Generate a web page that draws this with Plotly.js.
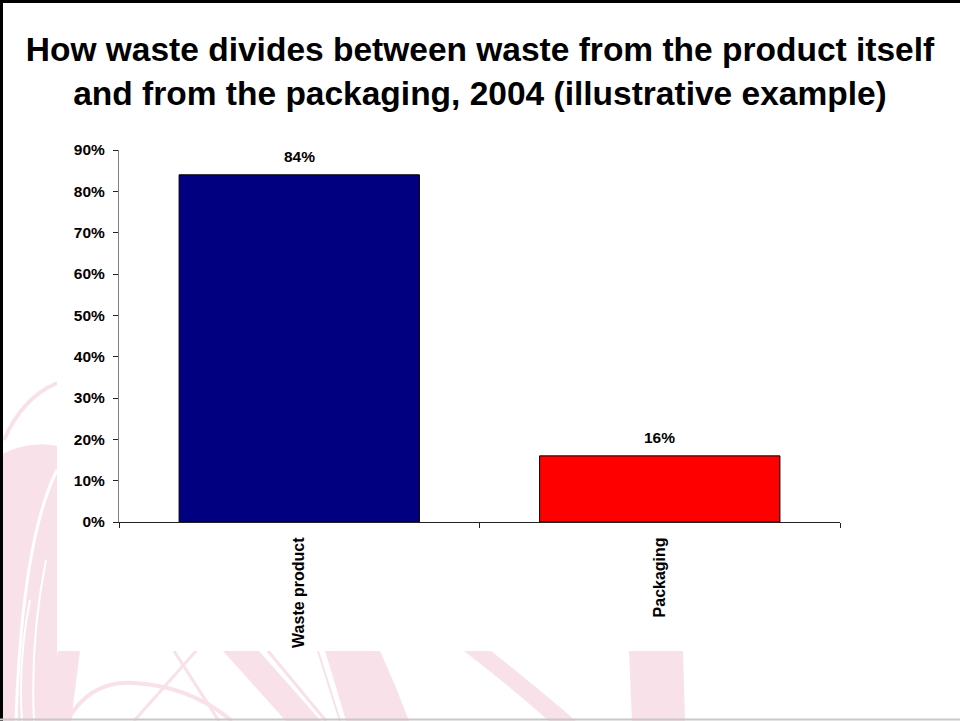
<!DOCTYPE html>
<html>
<head>
<meta charset="utf-8">
<script src="https://cdn.plot.ly/plotly-3.0.1.min.js"></script>
<style>
  html, body { margin: 0; padding: 0; background: #ffffff; }
  #chart { width: 960px; height: 721px; }
</style>
</head>
<body>
<div id="chart"></div>
<script>
// Share of waste by source
const categories = ['Waste product', 'Packaging'];
const shares = [0.84, 0.16];
const barColors = ['#000080', '#ff0000'];
const yTickValues = [0, 0.1, 0.2, 0.3, 0.4, 0.5, 0.6, 0.7, 0.8, 0.9];

const W = 960, H = 721;
const M = { l: 119, r: 120, t: 150, b: 199 };
const plotW = W - M.l - M.r;
const plotH = H - M.t - M.b;

// Convert pixel positions on the page into paper units for decorative shapes
function px(x) { return (x - M.l) / plotW; }
function py(y) { return (H - M.b - y) / plotH; }
function pathFromPixels(d) {
  const tokens = d.trim().split(/\s+/);
  const out = [];
  let isX = true;
  for (const t of tokens) {
    if (/^[A-Za-z]$/.test(t)) { out.push(t); isX = true; continue; }
    const v = parseFloat(t);
    out.push(isX ? px(v).toFixed(5) : py(v).toFixed(5));
    isX = !isX;
  }
  return out.join(' ');
}

const pink = '#f9e1ea';
function fillShape(d) {
  return { type: 'path', xref: 'paper', yref: 'paper', layer: 'below',
           path: pathFromPixels(d), fillcolor: pink, line: { width: 0 } };
}
function strokeShape(d, color, width) {
  return { type: 'path', xref: 'paper', yref: 'paper', layer: 'below',
           path: pathFromPixels(d), line: { color: color, width: width } };
}

// Watermark swirl in the lower left of the slide
const decor = [
  fillShape('M 0 455 Q 30 440 57 446 L 57 721 L 0 721 Z'),
  strokeShape('M 57 383 Q 22 398 4 440', pink, 4),
  strokeShape('M 57 470 Q 22 540 16 721', '#ffffff', 3),
  strokeShape('M 46 560 Q 30 640 34 721', '#ffffff', 2),
  strokeShape('M 30 600 Q 18 660 22 721', '#ffffff', 2),
  fillShape('M 58 651 L 80 651 L 71 721 L 40 721 Z'),
  strokeShape('M 67 721 Q 90 680 134 683 Q 190 686 232 721', pink, 4),
  strokeShape('M 174 651 L 219 721', pink, 3),
  strokeShape('M 196 651 L 134 721', pink, 3),
  fillShape('M 223 651 L 259 651 L 321 721 L 286 721 Z'),
  strokeShape('M 268 651 L 326 721', pink, 3),
  fillShape('M 325 651 L 380 651 Q 396 686 409 721 L 346 721 Q 336 686 325 651 Z'),
  strokeShape('M 318 651 L 340 721', pink, 2),
  fillShape('M 464 651 L 491 651 Q 540 690 576 721 L 549 721 Q 512 688 464 651 Z'),
  fillShape('M 629 651 L 683 651 L 685 721 L 632 721 Z')
];

// White panel behind the chart
const panel = { type: 'rect', xref: 'paper', yref: 'paper', layer: 'below',
                x0: px(57), x1: px(960), y0: py(651), y1: py(0),
                fillcolor: '#ffffff', line: { width: 0 } };

// Slide frame
const frame = [
  { type: 'line', xref: 'paper', yref: 'paper', x0: px(0), x1: px(960), y0: py(1.5), y1: py(1.5),
    line: { color: '#000000', width: 3 } },
  { type: 'line', xref: 'paper', yref: 'paper', x0: px(1.5), x1: px(1.5), y0: py(0), y1: py(721),
    line: { color: '#000000', width: 3 } },
  { type: 'line', xref: 'paper', yref: 'paper', x0: px(0), x1: px(960), y0: py(719.5), y1: py(719.5),
    line: { color: '#c8c8c8', width: 2 } }
];

const labelFont = { family: 'Liberation Sans, Arial, sans-serif', size: 15.5, color: '#000000', weight: 'bold' };
const categoryFont = { family: 'Liberation Sans, Arial, sans-serif', size: 16, color: '#000000', weight: 'bold' };

const valueLabels = categories.map((c, i) => ({
  x: c, y: shares[i], xref: 'x', yref: 'y',
  text: Math.round(shares[i] * 100) + '%',
  showarrow: false, yanchor: 'bottom', yshift: 8,
  font: labelFont
}));

const trace = {
  type: 'bar',
  x: categories,
  y: shares,
  marker: { color: barColors, line: { color: '#000000', width: 1 } },
  hoverinfo: 'skip'
};

const layout = {
  width: W, height: H,
  margin: M,
  paper_bgcolor: '#ffffff',
  plot_bgcolor: 'rgba(0,0,0,0)',
  showlegend: false,
  bargap: 1 / 3,
  title: {
    text: 'How waste divides between waste from the product itself<br>and from the packaging, 2004 (illustrative example)',
    x: 0.5, xref: 'container', xanchor: 'center',
    y: 1 - 61 / H, yref: 'container', yanchor: 'top',
    font: { family: 'Liberation Sans, Arial, sans-serif', size: 33.5, color: '#000000', weight: 'bold' }
  },
  xaxis: {
    type: 'category',
    range: [-0.5, 1.5],
    showline: true, linecolor: '#222222', linewidth: 1,
    ticks: 'outside', tickson: 'boundaries', ticklen: 5, tickcolor: '#222222',
    tickangle: -90,
    ticklabelstandoff: 8,
    tickfont: categoryFont,
    showgrid: false, zeroline: false, fixedrange: true
  },
  yaxis: {
    range: [0, 0.9],
    tickvals: yTickValues,
    tickformat: '.0%',
    showline: true, linecolor: '#808080', linewidth: 1,
    ticks: 'outside', ticklen: 5, tickcolor: '#222222',
    ticklabelstandoff: 5,
    tickfont: labelFont,
    showgrid: false, zeroline: false, fixedrange: true
  },
  shapes: decor.concat([panel], frame),
  annotations: valueLabels
};

Plotly.newPlot('chart', [trace], layout, { displayModeBar: false, staticPlot: true });
</script>
</body>
</html>
